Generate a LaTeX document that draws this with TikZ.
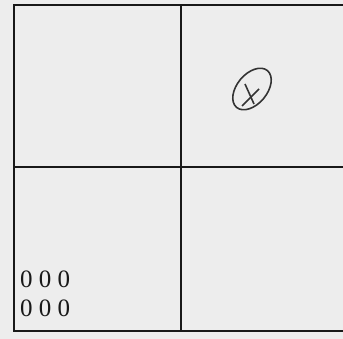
\documentclass[tikz,border=0pt]{standalone}
\usepackage{fontspec}
\setmainfont{Liberation Serif}
\begin{document}
\begin{tikzpicture}[x=1pt,y=-1pt,
  gridline/.style={line width=1.8pt,black!90},
  digits/.style={inner sep=0pt,anchor=base west,font=\fontsize{25}{25}\selectfont,text=black!90},
  penmark/.style={line width=1.6pt,black!80}]
\useasboundingbox (0,0) rectangle (343,339);
\fill[black!7] (0,0) rectangle (343,339);
% grid
\draw[gridline] (343,5) -- (14,5) -- (14,331) -- (343,331);
\draw[gridline] (181,5) -- (181,331);
\draw[gridline] (14,167) -- (343,167);
% circled cross
\draw[penmark,rotate around={50:(252,89)}] (252,89) ellipse [x radius=24, y radius=15];
\coordinate (a1) at (245,84);
\coordinate (a2) at (254,104);
\coordinate (b1) at (259,89);
\coordinate (b2) at (242,106);
\draw[penmark] (a1) -- (a2);
\draw[penmark] (b1) -- (b2);
% digits
\node[digits] (r1) at (20,288) {0 0 0};
\node[digits] (r2) at (20,317) {0 0 0};
\end{tikzpicture}
\end{document}
